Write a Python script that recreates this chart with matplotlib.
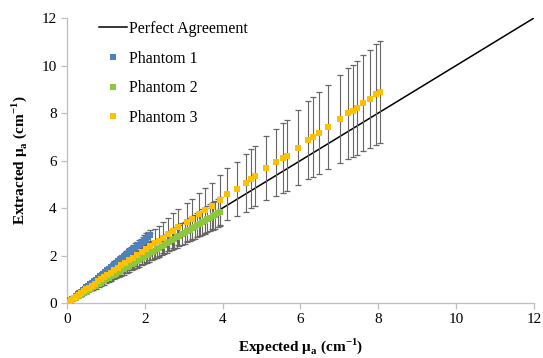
import matplotlib
matplotlib.use("Agg")
import matplotlib.pyplot as plt
from matplotlib.lines import Line2D

plt.rcParams['font.family'] = 'Liberation Serif'
plt.rcParams['mathtext.fontset'] = 'custom'
plt.rcParams['mathtext.rm'] = 'Liberation Serif'
plt.rcParams['mathtext.bf'] = 'Liberation Serif:bold'

# perfect agreement line
line_x = [0, 12]
line_y = [0, 12]

# Phantom 1 (blue)
p1_x = [0.03, 0.08, 0.12, 0.17, 0.22, 0.27, 0.31, 0.36, 0.41, 0.46, 0.5, 0.55,
        0.6, 0.65, 0.7, 0.74, 0.79, 0.84, 0.89, 0.93, 0.98, 1.03, 1.08, 1.13,
        1.17, 1.22, 1.27, 1.32, 1.36, 1.41, 1.46, 1.51, 1.56, 1.6, 1.65, 1.7,
        1.75, 1.79, 1.84, 1.89, 1.94, 1.99, 2.04, 2.08, 2.13]
p1_y = [0.04, 0.11, 0.16, 0.23, 0.29, 0.36, 0.41, 0.48, 0.54, 0.61, 0.67, 0.73,
        0.8, 0.86, 0.93, 0.98, 1.05, 1.12, 1.18, 1.24, 1.3, 1.37, 1.44, 1.5,
        1.56, 1.62, 1.69, 1.76, 1.81, 1.88, 1.94, 2.01, 2.08, 2.13, 2.19, 2.26,
        2.33, 2.38, 2.45, 2.51, 2.58, 2.65, 2.71, 2.77, 2.85]
p1_err = [0.0, 0.01, 0.01, 0.02, 0.02, 0.03, 0.03, 0.04, 0.04, 0.05, 0.05, 0.06,
          0.06, 0.07, 0.07, 0.08, 0.08, 0.09, 0.09, 0.1, 0.1, 0.11, 0.12, 0.12,
          0.13, 0.13, 0.14, 0.14, 0.15, 0.15, 0.16, 0.16, 0.17, 0.17, 0.18, 0.18,
          0.19, 0.19, 0.2, 0.2, 0.21, 0.21, 0.22, 0.22, 0.23]

# Phantom 2 (green)
p2_x = [0.03, 0.1, 0.16, 0.23, 0.29, 0.36, 0.42, 0.49, 0.55, 0.62, 0.68, 0.75,
        0.81, 0.88, 0.94, 1.01, 1.07, 1.14, 1.2, 1.27, 1.33, 1.4, 1.46, 1.53,
        1.59, 1.66, 1.72, 1.79, 1.85, 1.92, 1.98, 2.05, 2.11, 2.18, 2.24, 2.31,
        2.37, 2.44, 2.5, 2.57, 2.63, 2.7, 2.76, 2.83, 2.89, 2.96, 3.02, 3.09,
        3.15, 3.22, 3.28, 3.35, 3.41, 3.48, 3.54, 3.61, 3.67, 3.74, 3.8, 3.87, 3.93]
p2_y = [0.03, 0.1, 0.16, 0.23, 0.28, 0.35, 0.41, 0.48, 0.54, 0.61, 0.67, 0.73,
        0.79, 0.86, 0.92, 0.99, 1.05, 1.12, 1.18, 1.24, 1.3, 1.37, 1.43, 1.5,
        1.56, 1.63, 1.69, 1.75, 1.81, 1.88, 1.94, 2.01, 2.07, 2.14, 2.2, 2.26,
        2.32, 2.39, 2.45, 2.52, 2.58, 2.65, 2.71, 2.77, 2.83, 2.9, 2.96, 3.03,
        3.09, 3.16, 3.21, 3.28, 3.34, 3.41, 3.47, 3.54, 3.6, 3.67, 3.72, 3.79, 3.85]
p2_err = [0.0, 0.02, 0.03, 0.04, 0.05, 0.06, 0.07, 0.08, 0.09, 0.1, 0.11, 0.12,
          0.13, 0.14, 0.15, 0.16, 0.17, 0.18, 0.19, 0.2, 0.21, 0.22, 0.23, 0.24,
          0.25, 0.26, 0.27, 0.28, 0.29, 0.3, 0.31, 0.32, 0.33, 0.34, 0.35, 0.36,
          0.37, 0.38, 0.39, 0.4, 0.41, 0.42, 0.43, 0.44, 0.45, 0.46, 0.47, 0.48,
          0.49, 0.5, 0.51, 0.52, 0.53, 0.54, 0.55, 0.56, 0.57, 0.58, 0.59, 0.6, 0.61]

# Phantom 3 (orange)
p3_x = [0.04, 0.1, 0.17, 0.23, 0.3, 0.36, 0.43, 0.5, 0.57, 0.64, 0.72, 0.8,
        0.88, 0.96, 1.04, 1.13, 1.22, 1.31, 1.4, 1.5, 1.6, 1.7, 1.81, 1.92,
        2.03, 2.14, 2.25, 2.36, 2.47, 2.6, 2.73, 2.86, 3.08, 3.2, 3.4, 3.55,
        3.72, 3.93, 4.12, 4.36, 4.6, 4.73, 4.83, 5.11, 5.37, 5.54, 5.65, 5.93,
        6.2, 6.33, 6.48, 6.71, 7.01, 7.23, 7.34, 7.46, 7.61, 7.79, 7.93, 8.04]
p3_y = [0.05, 0.11, 0.19, 0.26, 0.34, 0.41, 0.49, 0.57, 0.65, 0.73, 0.82, 0.91,
        1.0, 1.09, 1.18, 1.28, 1.38, 1.48, 1.58, 1.69, 1.8, 1.91, 2.03, 2.15,
        2.27, 2.39, 2.51, 2.63, 2.75, 2.9, 3.05, 3.2, 3.41, 3.53, 3.73, 3.9,
        4.08, 4.34, 4.58, 4.8, 5.07, 5.24, 5.35, 5.68, 5.92, 6.12, 6.2, 6.54,
        6.87, 7.0, 7.17, 7.42, 7.76, 7.99, 8.1, 8.23, 8.41, 8.6, 8.78, 8.87]
p3_err = [0.01, 0.03, 0.05, 0.06, 0.08, 0.1, 0.12, 0.14, 0.16, 0.18, 0.2, 0.22,
          0.24, 0.26, 0.28, 0.31, 0.33, 0.36, 0.38, 0.41, 0.43, 0.46, 0.49, 0.52,
          0.55, 0.57, 0.6, 0.63, 0.66, 0.7, 0.73, 0.77, 0.82, 0.85, 0.9, 0.94,
          0.98, 1.04, 1.1, 1.15, 1.22, 1.26, 1.28, 1.36, 1.42, 1.47, 1.49, 1.57,
          1.65, 1.68, 1.72, 1.78, 1.86, 1.92, 1.94, 1.98, 2.02, 2.06, 2.11, 2.15]

fig = plt.figure(figsize=(5.43, 3.58), dpi=100)
ax = fig.add_axes([0.1234, 0.1536, 0.86, 0.7961])

ax.plot(line_x, line_y, color='black', lw=1.1, zorder=2)

err_kw = dict(fmt='none', ecolor='#666666', elinewidth=0.8, capsize=2.2,
              capthick=0.9, zorder=3)
ax.errorbar(p1_x, p1_y, yerr=p1_err, **err_kw)
ax.errorbar(p2_x, p2_y, yerr=p2_err, **err_kw)
ax.errorbar(p3_x, p3_y, yerr=p3_err, **err_kw)

mk = dict(marker='s', ms=4, ls='none', mew=0, zorder=4)
ax.plot(p1_x, p1_y, color='#4f81bd', **mk)
ax.plot(p2_x, p2_y, color='#8dc63f', **mk)
ax.plot(p3_x, p3_y, color='#ffc000', **mk)

ax.set_xlim(0, 12)
ax.set_ylim(0, 12)
ax.set_xticks([0, 2, 4, 6, 8, 10, 12])
ax.set_yticks([0, 2, 4, 6, 8, 10, 12])
for s in ['top', 'right']:
    ax.spines[s].set_visible(False)
for s in ['left', 'bottom']:
    ax.spines[s].set_color('#bfbfbf')
    ax.spines[s].set_linewidth(0.9)
ax.tick_params(colors='#bfbfbf', labelcolor='black', labelsize=11, length=4,
               width=0.9)

ax.set_xlabel(r'Expected μ$_\mathbf{a}$ (cm$^\mathbf{-1}$)', fontsize=11,
              fontweight='bold', labelpad=7)
ax.set_ylabel(r'Extracted μ$_\mathbf{a}$ (cm$^\mathbf{-1}$)', fontsize=11,
              fontweight='bold', labelpad=9)

handles = [Line2D([], [], color='black', lw=1.1),
           Line2D([], [], color='#4f81bd', marker='s', ms=4, ls='none', mew=0),
           Line2D([], [], color='#8dc63f', marker='s', ms=4, ls='none', mew=0),
           Line2D([], [], color='#ffc000', marker='s', ms=4, ls='none', mew=0)]
labels = ['Perfect Agreement', 'Phantom 1', 'Phantom 2', 'Phantom 3']
ax.legend(handles, labels, loc='upper left', bbox_to_anchor=(0.055, 1.012),
          frameon=False, fontsize=11.5, labelspacing=0.85, handlelength=1.75,
          handletextpad=0.1, borderaxespad=0.0)

fig.savefig('out.png', dpi=100)
